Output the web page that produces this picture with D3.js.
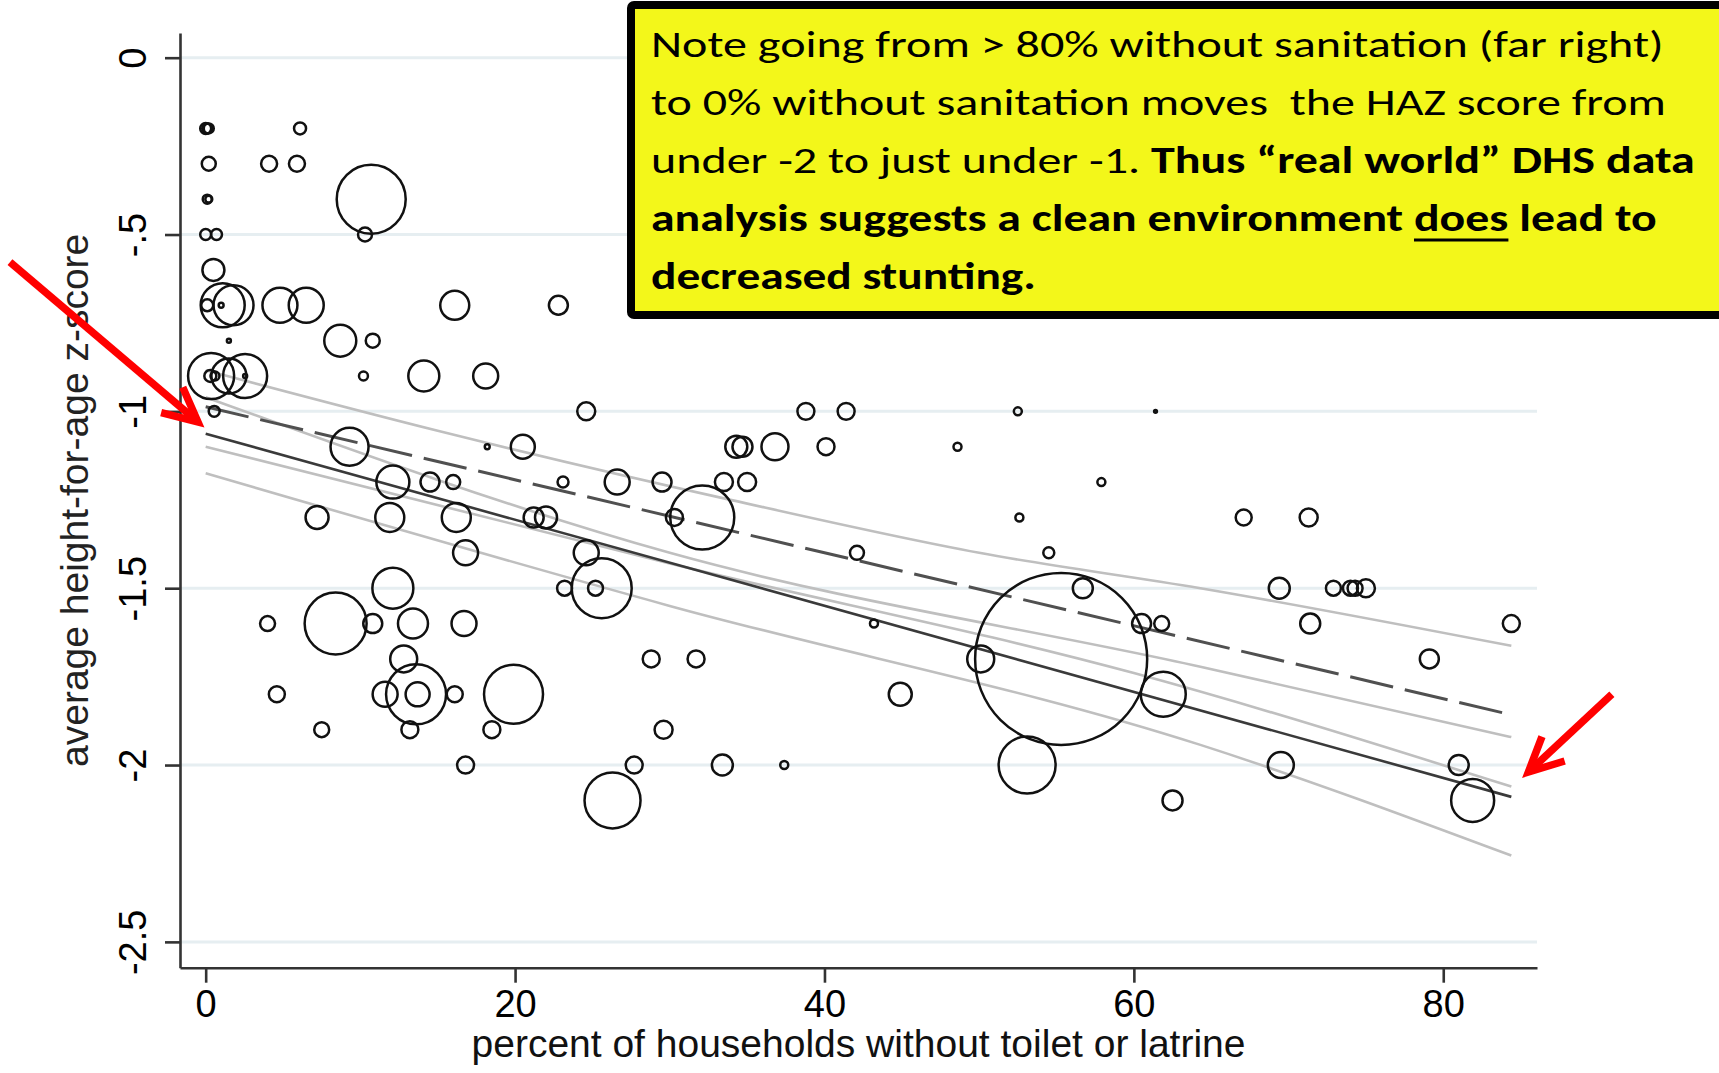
<!DOCTYPE html>
<html>
<head>
<meta charset="utf-8">
<script src="https://cdn.jsdelivr.net/npm/d3@7"></script>
<style>
  html, body { margin: 0; padding: 0; background: #fff; }
  svg { display: block; }
</style>
</head>
<body>
<svg id="chart" width="1719" height="1073"></svg>
<script>
// One bubble per survey: share of households without a toilet or latrine,
// average height-for-age z-score, and survey weight (bubble area).
const pctNoToilet = [
  0.0, 0.1, 0.2, 6.1,
  0.2, 4.1, 5.9,
  0.1, 0.2, 10.7,
  0.0, 0.7, 10.3,
  0.5,
  0.1, 1.0, 1.1, 1.8, 4.8, 6.5, 16.1, 22.8,
  1.5, 8.7, 10.8,
  0.35, 1.5, 2.55, 0.3, 0.6, 2.55, 10.2, 14.1, 18.1,
  0.55, 24.6, 38.8, 41.4, 52.5, 61.4,
  9.3, 18.2, 20.5, 34.3, 34.7, 36.8, 40.1, 48.6,
  12.1, 14.5, 16.0, 23.1, 26.6, 29.5, 33.5, 35.0, 57.9,
  7.2, 11.9, 16.2, 21.2, 22.0, 30.3, 32.1, 52.6, 67.1, 71.3,
  16.8, 24.6, 42.1, 54.5,
  12.1, 23.2, 25.2, 25.6, 56.7, 69.4, 72.9, 74.0, 74.3, 75.0,
  4.0, 8.4, 10.8, 13.4, 16.7, 43.2, 60.5, 61.8, 71.4, 84.4,
  12.8, 28.8, 31.7, 50.1, 55.3, 79.1,
  4.6, 11.6, 13.6, 13.7, 16.1, 19.9, 44.9, 61.9,
  7.5, 13.2, 18.5, 29.6,
  16.8, 27.7, 33.4, 37.4, 53.1, 69.5, 81.0,
  26.3, 62.5, 81.9
];
const avgHAZ = [
  -0.2, -0.2, -0.2, -0.2,
  -0.3, -0.3, -0.3,
  -0.4, -0.4, -0.4,
  -0.5, -0.5, -0.5,
  -0.6,
  -0.7, -0.7, -0.7, -0.7, -0.7, -0.7, -0.7, -0.7,
  -0.8, -0.8, -0.8,
  -0.9, -0.9, -0.9, -0.9, -0.9, -0.9, -0.9, -0.9, -0.9,
  -1.0, -1.0, -1.0, -1.0, -1.0, -1.0,
  -1.1, -1.1, -1.1, -1.1, -1.1, -1.1, -1.1, -1.1,
  -1.2, -1.2, -1.2, -1.2, -1.2, -1.2, -1.2, -1.2, -1.2,
  -1.3, -1.3, -1.3, -1.3, -1.3, -1.3, -1.3, -1.3, -1.3, -1.3,
  -1.4, -1.4, -1.4, -1.4,
  -1.5, -1.5, -1.5, -1.5, -1.5, -1.5, -1.5, -1.5, -1.5, -1.5,
  -1.6, -1.6, -1.6, -1.6, -1.6, -1.6, -1.6, -1.6, -1.6, -1.6,
  -1.7, -1.7, -1.7, -1.7, -1.7, -1.7,
  -1.8, -1.8, -1.8, -1.8, -1.8, -1.8, -1.8, -1.8,
  -1.9, -1.9, -1.9, -1.9,
  -2.0, -2.0, -2.0, -2.0, -2.0, -2.0, -2.0,
  -2.1, -2.1, -2.1
];
const popWeight = [
  3.0, 2.5, 2.5, 3.6,
  4.9, 6.4, 6.4,
  2.0, 1.2, 119,
  3.0, 3.0, 4.9,
  12.1,
  3.6, 0.6, 48.4, 40, 30.6, 30.6, 21, 9,
  0.4, 25.6, 4.9,
  53, 30.6, 48.4, 3.6, 2.0, 0.4, 2.0, 24, 15.6,
  3.0, 8.1, 7.2, 7.2, 1.6, 0.2,
  36.1, 0.6, 14.4, 12.1, 10, 18.2, 7.2, 1.6,
  27.2, 9, 4.9, 3.0, 15.6, 9, 8.1, 8.1, 1.6,
  13.2, 21, 21, 10, 12.1, 7.2, 102.4, 1.6, 6.4, 8.1,
  15.6, 15.6, 4.9, 3.0,
  42, 5.6, 5.6, 90, 10, 11, 5.6, 5.6, 5.6, 8.1,
  5.6, 96, 9, 22.5, 15.6, 1.6, 9, 5.6, 10, 7.2,
  18.2, 7.2, 7.2, 18.2, 740, 9,
  6.4, 15.6, 90, 14.4, 6.4, 87, 13.2, 50.6,
  5.6, 7.2, 7.2, 8.1,
  7.2, 7.2, 11, 1.6, 81.2, 16.9, 10,
  78.4, 10, 46.2
];

// Axis ticks
const xTicks = [0, 20, 40, 60, 80];
const yTicks = [0, -0.5, -1, -1.5, -2, -2.5];
const yTickLabels = ["0", "-.5", "-1", "-1.5", "-2", "-2.5"];

// Linear fits (end points) and their confidence bounds
const solidFit = [[0, -1.063], [84.4, -2.09]];
const dashedFit = [[0, -0.987], [84.4, -1.858]];
const ciLines = [
  [[0, -0.884], [15, -1.055], [34, -1.251], [50, -1.40], [64.3, -1.50], [84.4, -1.663]],
  [[0, -1.10], [30, -1.43], [60, -1.74], [84.4, -2.061]],
  [[0, -0.96], [30, -1.40], [64.3, -1.722], [84.4, -1.921]],
  [[0, -1.175], [30, -1.55], [64.3, -1.943], [84.4, -2.256]]
];

// Annotation arrows in data units: [tail, tip]
const arrows = [
  [[-12.65, -0.578], [-0.5, -1.03]],
  [[90.9, -1.80], [85.5, -2.02]]
];

// Note text, one entry per line: [text, bold, underline]
const noteLines = [
  [["Note going from > 80% without sanitation (far right)", false]],
  [["to 0% without sanitation moves  the HAZ score from", false]],
  [["under -2 to just under -1. ", false], ["Thus \u201creal world\u201d DHS data", true]],
  [["analysis suggests a clean environment ", true], ["does", true, true], [" lead to", true]],
  [["decreased stunting.", true]]
];
const noteLineWidths = [1013, 1015, 1044, 1006, 385];

const svg = d3.select("#chart");
const AXIS_FONT = "'Liberation Sans', Arial, Helvetica, sans-serif";

const x = d3.scaleLinear().domain([-1.66, 86.06]).range([180, 1537]);
const y = d3.scaleLinear().domain([-2.573, 0.0698]).range([967.7, 33]);
const r = d3.scaleSqrt().domain([0, 1000]).range([0, 100]);

// Horizontal grid
svg.append("g").selectAll("line")
  .data(yTicks)
  .join("line")
  .attr("x1", x.range()[0]).attr("x2", x.range()[1])
  .attr("y1", d => y(d)).attr("y2", d => y(d))
  .attr("stroke", "#e6eef1")
  .attr("stroke-width", 3);

// Confidence bounds
const curve = d3.line().x(d => x(d[0])).y(d => y(d[1])).curve(d3.curveMonotoneX);
svg.append("g").selectAll("path")
  .data(ciLines)
  .join("path")
  .attr("d", curve)
  .attr("fill", "none")
  .attr("stroke", "#bfbfbf")
  .attr("stroke-width", 2.6);

// Fitted lines
const straight = d3.line().x(d => x(d[0])).y(d => y(d[1]));
svg.append("path")
  .attr("d", straight(dashedFit))
  .attr("fill", "none")
  .attr("stroke", "#505050")
  .attr("stroke-width", 3)
  .attr("stroke-dasharray", "44 12");
svg.append("path")
  .attr("d", straight(solidFit))
  .attr("fill", "none")
  .attr("stroke", "#3a3a3a")
  .attr("stroke-width", 2.6);

// Bubbles
svg.append("g").selectAll("circle")
  .data(d3.range(pctNoToilet.length))
  .join("circle")
  .attr("cx", i => x(pctNoToilet[i]))
  .attr("cy", i => y(avgHAZ[i]))
  .attr("r", i => r(popWeight[i]))
  .attr("fill", "none")
  .attr("stroke", "#111")
  .attr("stroke-width", 2.5);

// Axes
const yAxis = svg.append("g")
  .attr("transform", `translate(${x.range()[0]},0)`)
  .call(d3.axisLeft(y).tickValues(yTicks).tickSize(15).tickSizeOuter(0)
    .tickFormat((d, i) => yTickLabels[i]));
const xAxis = svg.append("g")
  .attr("transform", `translate(0,${y.range()[0]})`)
  .call(d3.axisBottom(x).tickValues(xTicks).tickSize(15).tickSizeOuter(0));

[yAxis, xAxis].forEach(g => {
  g.select(".domain").attr("stroke", "#333").attr("stroke-width", 2.6);
  g.selectAll(".tick line").attr("stroke", "#333").attr("stroke-width", 2.6);
  g.selectAll("text").attr("fill", "#000")
    .style("font-family", AXIS_FONT).style("font-size", "38px");
});
yAxis.selectAll(".tick text")
  .attr("x", 0).attr("y", 0).attr("dy", 0)
  .attr("text-anchor", "middle")
  .attr("transform", "translate(-34,0) rotate(-90)");
xAxis.selectAll(".tick text")
  .attr("y", 49.3).attr("dy", 0);

// Axis titles
svg.append("text")
  .attr("x", (x.range()[0] + x.range()[1]) / 2)
  .attr("y", 1057)
  .attr("text-anchor", "middle")
  .style("font-family", AXIS_FONT).style("font-size", "39px")
  .attr("fill", "#111")
  .text("percent of households without toilet or latrine");
svg.append("text")
  .attr("transform", `translate(88,${(y.range()[0] + y.range()[1]) / 2}) rotate(-90)`)
  .attr("text-anchor", "middle")
  .style("font-family", AXIS_FONT).style("font-size", "39px")
  .attr("fill", "#222")
  .text("average height-for-age z-score");

// Red arrows
const arrowG = svg.append("g")
  .attr("stroke", "#ff0000").attr("fill", "none")
  .attr("stroke-width", 7.5);
arrows.forEach(([tail, tip]) => {
  const x0 = x(tail[0]), y0 = y(tail[1]);
  const x1 = x(tip[0]), y1 = y(tip[1]);
  const ang = Math.atan2(y0 - y1, x0 - x1);
  const len = 38, spread = 26 * Math.PI / 180;
  arrowG.append("line")
    .attr("x1", x0).attr("y1", y0).attr("x2", x1).attr("y2", y1);
  const a1 = [x1 + len * Math.cos(ang + spread), y1 + len * Math.sin(ang + spread)];
  const a2 = [x1 + len * Math.cos(ang - spread), y1 + len * Math.sin(ang - spread)];
  arrowG.append("path")
    .attr("d", `M${a1[0]},${a1[1]} L${x1},${y1} L${a2[0]},${a2[1]}`)
    .attr("stroke-linejoin", "miter");
});

// Note box
const note = svg.append("g");
note.append("rect")
  .attr("x", 631).attr("y", 5)
  .attr("width", 1200).attr("height", 310)
  .attr("rx", 3)
  .attr("fill", "#f3f71a")
  .attr("stroke", "#000")
  .attr("stroke-width", 8);

const NOTE_FONT = "Carlito, Calibri, Lato, 'Open Sans', sans-serif";
noteLines.forEach((segs, li) => {
  const g = note.append("g")
    .attr("transform", `translate(651,${57 + li * 58})`);
  const t = g.append("text")
    .attr("x", 0).attr("y", 0)
    .style("font-family", NOTE_FONT)
    .style("font-size", "37.5px")
    .style("white-space", "pre")
    .attr("fill", "#000");
  segs.forEach(([txt, bold]) => {
    t.append("tspan").attr("font-weight", bold ? 700 : 400).text(txt);
  });
  const w = t.node().getComputedTextLength();
  const sx = noteLineWidths[li] / w;
  g.attr("transform", `translate(651,${57 + li * 58}) scale(${sx},1)`);
  // underline
  let idx = 0;
  segs.forEach(([txt, bold, under]) => {
    if (under) {
      const node = t.node();
      const s = node.getStartPositionOfChar(idx).x;
      const e = node.getEndPositionOfChar(idx + txt.length - 1).x;
      g.append("line")
        .attr("x1", s).attr("x2", e)
        .attr("y1", 9).attr("y2", 9)
        .attr("stroke", "#000").attr("stroke-width", 3);
    }
    idx += txt.length;
  });
});
</script>
</body>
</html>
